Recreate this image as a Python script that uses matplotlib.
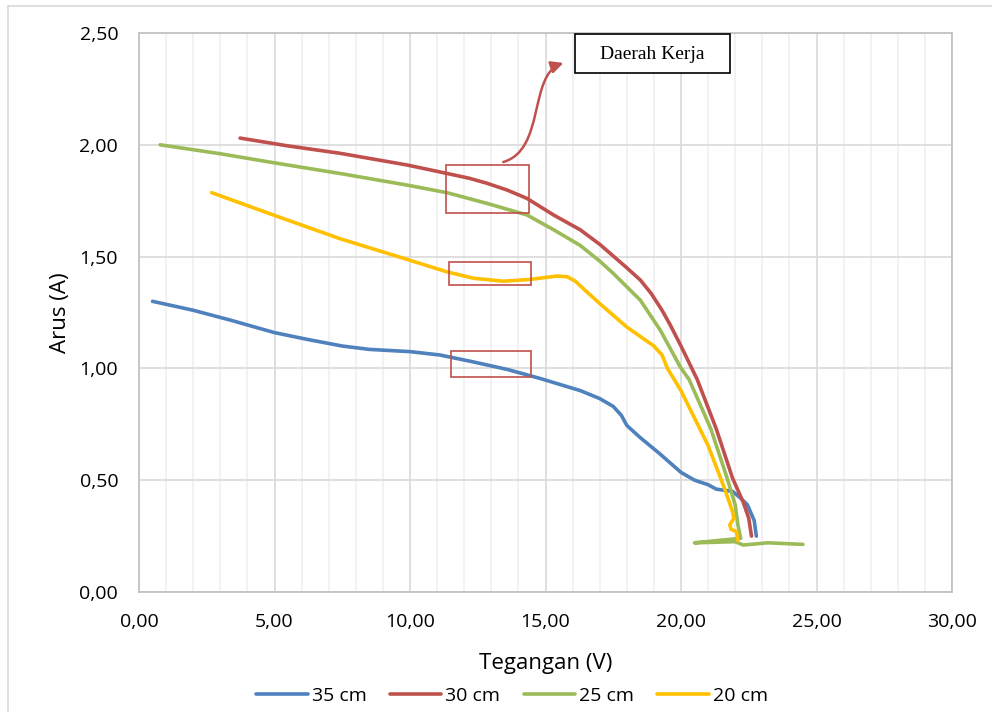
import numpy as np
import matplotlib
matplotlib.use("Agg")
import matplotlib.pyplot as plt
from matplotlib.patches import Rectangle, FancyArrowPatch
from matplotlib.path import Path
from matplotlib.lines import Line2D
from matplotlib.ticker import FuncFormatter, MultipleLocator

plt.rcParams["font.family"] = ["Open Sans", "DejaVu Sans"]

# ---- data (Tegangan V, Arus A) ----
v35 = [0.5, 2.0, 3.4, 5.0, 6.2, 7.5, 8.5, 10.0, 11.1, 12.3, 13.6, 14.8, 16.3, 17.0, 17.5, 17.8,
       18.0, 18.5, 19.2, 20.0, 20.5, 21.0, 21.3, 21.6, 21.9, 22.2, 22.45, 22.7, 22.78]
i35 = [1.30, 1.26, 1.215, 1.16, 1.13, 1.10, 1.085, 1.075, 1.06, 1.03, 0.995, 0.955, 0.90, 0.865,
       0.83, 0.79, 0.745, 0.69, 0.62, 0.535, 0.50, 0.48, 0.46, 0.455, 0.45, 0.42, 0.39, 0.32, 0.25]

v30 = [3.73, 5.5, 7.42, 9.88, 11.36, 12.2, 12.84, 13.6, 14.32, 15.3, 16.28, 17.0, 18.0, 18.5, 18.9,
       19.3, 19.6, 20.0, 20.6, 21.3, 21.9, 22.3, 22.5, 22.6]
i30 = [2.03, 1.995, 1.962, 1.91, 1.872, 1.85, 1.828, 1.797, 1.76, 1.686, 1.62, 1.555, 1.45, 1.395,
       1.335, 1.26, 1.195, 1.10, 0.95, 0.73, 0.51, 0.40, 0.33, 0.25]

v25 = [0.78, 3.0, 4.96, 7.5, 9.88, 11.36, 12.84, 14.32, 15.3, 16.28, 17.0, 17.5, 18.5, 19.24, 19.98,
       20.3, 21.1, 21.7, 22.0, 22.1, 22.2, 20.5, 22.0, 22.3, 23.2, 24.5]
i25 = [2.00, 1.96, 1.92, 1.87, 1.82, 1.786, 1.738, 1.686, 1.62, 1.55, 1.48, 1.425, 1.305, 1.17, 1.005,
       0.95, 0.73, 0.51, 0.39, 0.30, 0.24, 0.22, 0.225, 0.21, 0.22, 0.213]

v20 = [2.68, 4.96, 7.42, 9.88, 11.36, 12.35, 13.45, 14.44, 15.42, 15.8, 16.1, 16.5, 17.0, 18.0,
       19.0, 19.3, 19.5, 20.0, 21.0, 21.6, 21.9, 21.95, 21.8, 21.85, 22.05, 22.1]
i20 = [1.786, 1.686, 1.58, 1.488, 1.432, 1.403, 1.39, 1.398, 1.413, 1.41, 1.39, 1.345, 1.29, 1.185,
       1.10, 1.06, 1.00, 0.90, 0.655, 0.465, 0.36, 0.33, 0.30, 0.28, 0.27, 0.23]

labels = ["35 cm", "30 cm", "25 cm", "20 cm"]
colors = ["#4F81BD", "#C0504D", "#9BBB59", "#FFC000"]

# highlighted "Daerah Kerja" boxes: (x0, x1, y0, y1)
boxes = [(11.34, 14.40, 1.695, 1.91), (11.45, 14.48, 1.373, 1.476), (11.52, 14.46, 0.960, 1.078)]

fig = plt.figure(figsize=(9.92, 7.12), dpi=100)
ax = fig.add_axes([139 / 992, 1 - 592 / 712, (952 - 139) / 992, (592 - 33) / 712])

# outer chart border
fig.add_artist(Line2D([8 / 992, 8 / 992], [0, 1 - 6 / 712], color="#D9D9D9", lw=1.2))
fig.add_artist(Line2D([8 / 992, 1], [1 - 6 / 712, 1 - 6 / 712], color="#D9D9D9", lw=1.2))

for (v, i), lab, col in zip([(v35, i35), (v30, i30), (v25, i25), (v20, i20)], labels, colors):
    ax.plot(v, i, color=col, lw=2.6, label=lab, solid_joinstyle="round", solid_capstyle="round")

for x0, x1, y0, y1 in boxes:
    ax.add_patch(Rectangle((x0, y0), x1 - x0, y1 - y0, fill=False, edgecolor="#C0504D", lw=1.2, zorder=5))

# curved arrow to label
verts = [(13.44, 1.923), (15.0, 1.977), (14.37, 2.312), (15.66, 2.366)]
arrow = FancyArrowPatch(path=Path(verts, [Path.MOVETO, Path.CURVE4, Path.CURVE4, Path.CURVE4]),
                        arrowstyle="-|>", mutation_scale=18, color="#C0504D", lw=1.8, zorder=6)
ax.add_patch(arrow)

ax.add_patch(Rectangle((16.1, 2.321), 21.79 - 16.1, 2.496 - 2.321, fill=True, facecolor="white",
                       edgecolor="black", lw=1.2, zorder=6, clip_on=False))
ax.text(18.94, 2.405, "Daerah Kerja", family="Liberation Serif", fontsize=14, ha="center", va="center", zorder=7)

ax.set_xlim(0, 30)
ax.set_ylim(0, 2.5)
ax.xaxis.set_major_locator(MultipleLocator(5))
ax.xaxis.set_minor_locator(MultipleLocator(1))
ax.yaxis.set_major_locator(MultipleLocator(0.5))
fmt = FuncFormatter(lambda v, p: f"{v:.2f}".replace(".", ","))
ax.xaxis.set_major_formatter(fmt)
ax.yaxis.set_major_formatter(fmt)
ax.grid(which="minor", axis="x", color="#F0F0F0", lw=1.2)
ax.grid(which="major", axis="both", color="#D9D9D9", lw=1.2)
ax.set_axisbelow(True)
ax.tick_params(which="both", length=0, labelsize=14)
ax.tick_params(axis="y", pad=15)
ax.tick_params(axis="x", pad=15)
for s in ax.spines.values():
    s.set_color("#BFBFBF")
    s.set_linewidth(1.2)

ax.set_xlabel("Tegangan (V)", fontsize=16, labelpad=16)
ax.set_ylabel("Arus (A)", fontsize=16, labelpad=6)

fig.legend(*ax.get_legend_handles_labels(), loc="center", bbox_to_anchor=(512 / 992, 1 - 696 / 712),
           ncol=4, frameon=False, fontsize=14, handlelength=2.65, handletextpad=0.2,
           columnspacing=1.2, borderpad=0.1)

fig.savefig("out.png", dpi=100, facecolor="white")
